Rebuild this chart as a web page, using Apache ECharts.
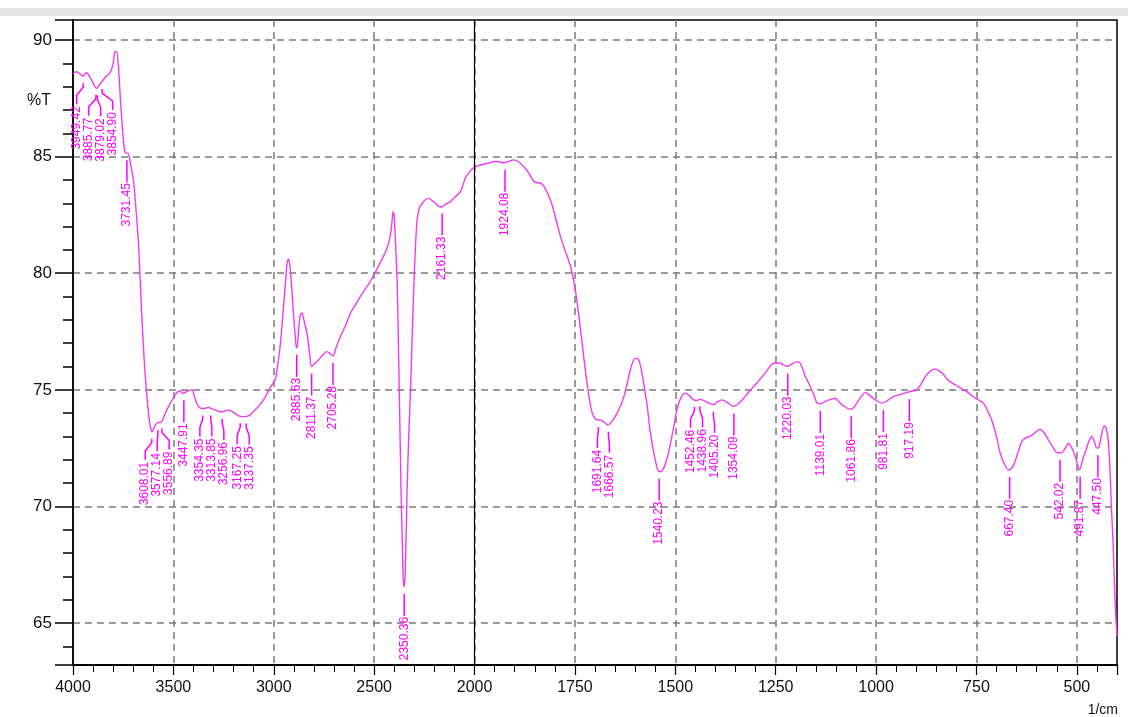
<!DOCTYPE html>
<html><head><meta charset="utf-8">
<script src="https://cdn.jsdelivr.net/npm/echarts@6/dist/echarts.min.js"></script>
<style>html,body{margin:0;padding:0;background:#fff}#c{width:1128px;height:717px}</style>
</head><body><div id="c"></div>
<script>
// ---- data (wavenumber in 1/cm, transmittance in %T) ----
const wavenumbers = [4000,3990,3982,3965,3950,3940,3932,3915,3900,3882,3870,3857,3835,3815,3800,3791,3783,3774,3762,3748,3741,3735,3728,3720,3712,3699,3686,3674,3658,3641,3624,3612,3606,3598,3583,3570,3558,3545,3533,3510,3491,3470,3450,3430,3408,3395,3380,3360,3342,3325,3310,3295,3283,3265,3250,3230,3217,3195,3175,3155,3134,3115,3101,3075,3051,3030,3017,2993,2984,2968,2951,2940,2934,2926,2918,2910,2898,2888,2884,2876,2868,2860,2850,2835,2822,2812,2800,2776,2755,2735,2718,2705,2690,2668,2640,2618,2590,2569,2530,2497,2470,2450,2436,2420,2410,2406,2400,2392,2385,2378,2372,2366,2360,2355,2350,2345,2336,2328,2319,2311,2303,2295,2286,2275,2261,2245,2228,2210,2195,2175,2161,2145,2120,2100,2070,2045,2020,2000,1985,1965,1952,1940,1927,1915,1902,1890,1877,1865,1852,1840,1830,1811,1800,1786,1775,1761,1749,1736,1720,1707,1695,1685,1676,1668,1658,1645,1628,1612,1603,1596,1591,1585,1579,1570,1562,1550,1541,1535,1529,1520,1512,1504,1496,1485,1475,1465,1454,1445,1438,1430,1418,1405,1395,1384,1370,1355,1342,1330,1315,1297,1275,1255,1240,1222,1210,1197,1189,1176,1168,1155,1147,1138,1125,1110,1102,1093,1085,1064,1055,1048,1035,1027,1015,1002,985,975,957,940,923,910,898,888,877,865,852,842,831,820,810,796,782,768,753,743,733,722,712,700,691,680,670,662,654,645,637,627,617,605,592,581,571,560,550,540,534,527,521,514,507,500,494,490,484,477,470,463,457,450,445,440,432,427,422,418,414,410,406,403,400];
const transmittance = [88.55,88.62,88.64,88.55,88.45,88.55,88.6,88.4,88.15,87.93,88.05,88.2,88.45,88.6,89.0,89.5,89.5,88.9,87.2,85.6,85.2,85.15,85.15,85.0,84.6,84.0,82.7,81.3,78.3,75.7,74.0,73.3,73.2,73.35,73.57,73.6,73.64,73.9,74.14,74.5,74.79,74.95,74.85,74.95,75.0,74.7,74.35,74.2,74.21,74.25,74.2,74.15,74.1,74.05,74.07,74.13,74.12,74.0,73.88,73.85,73.86,73.95,74.07,74.3,74.57,74.9,75.1,75.43,75.86,76.9,78.6,79.8,80.4,80.6,80.2,79.3,77.8,76.85,76.8,77.6,78.2,78.3,78.0,77.43,76.6,76.0,76.1,76.29,76.5,76.64,76.55,76.45,76.8,77.29,77.8,78.29,78.7,79.0,79.5,80.0,80.45,80.8,81.07,81.6,82.3,82.64,82.4,81.0,79.5,76.43,73.5,70.7,68.5,66.9,66.55,67.2,70.7,72.9,75.0,77.2,79.3,81.0,82.29,82.8,83.0,83.15,83.21,83.1,83.0,82.85,82.86,82.95,83.07,83.25,83.5,84.1,84.4,84.55,84.64,84.72,84.79,84.78,84.74,84.8,84.86,84.78,84.57,84.3,83.93,83.88,83.8,83.14,82.5,81.57,81.0,80.29,79.29,77.57,75.29,74.0,73.71,73.7,73.6,73.5,73.65,74.0,74.71,75.86,76.3,76.35,76.29,75.9,75.29,74.3,73.14,72.0,71.5,71.5,71.64,72.1,72.71,73.4,74.14,74.7,74.86,74.75,74.57,74.55,74.6,74.55,74.45,74.36,74.48,74.57,74.45,74.29,74.42,74.64,74.95,75.29,75.75,76.14,76.15,76.0,76.1,76.21,76.14,75.57,75.29,74.8,74.43,74.4,74.52,74.6,74.64,74.5,74.36,74.17,74.25,74.43,74.75,74.89,74.75,74.57,74.43,74.5,74.71,74.8,74.89,74.95,75.0,75.25,75.57,75.8,75.89,75.8,75.64,75.4,75.29,75.15,75.0,74.85,74.64,74.55,74.43,74.1,73.71,73.0,72.29,71.8,71.57,71.65,71.93,72.4,72.79,72.95,73.0,73.15,73.31,73.15,72.86,72.55,72.31,72.3,72.36,72.55,72.71,72.55,72.29,71.9,71.57,71.7,72.1,72.43,72.8,73.0,72.8,72.5,72.55,72.95,73.46,73.35,72.86,71.8,70.0,68.5,66.5,65.29,64.43];

const peakWavenumbers = [3949.42,3885.77,3879.02,3854.90,3731.45,3608.01,3577.14,3556.89,3447.91,3354.35,3313.85,3256.96,3167.25,3137.35,2885.63,2811.37,2705.28,2350.36,2161.33,1924.08,1691.64,1666.57,1540.23,1452.46,1438.96,1405.20,1354.09,1220.03,1139.01,1061.86,981.81,917.19,667.40,542.02,491.87,447.50];
const peakTransmittance = [88.45,87.95,87.93,88.2,85.15,73.2,73.57,73.64,74.85,74.2,74.2,74.05,73.87,73.86,76.8,76.0,76.45,66.55,82.86,84.74,73.71,73.5,71.5,74.57,74.6,74.36,74.29,76.0,74.4,74.17,74.43,74.9,71.57,72.3,71.57,72.5];
const peakLabels = ['3949.42','3885.77','3879.02','3854.90','3731.45','3608.01','3577.14','3556.89','3447.91','3354.35','3313.85','3256.96','3167.25','3137.35','2885.63','2811.37','2705.28','2350.36','2161.33','1924.08','1691.64','1666.57','1540.23','1452.46','1438.96','1405.20','1354.09','1220.03','1139.01','1061.86','981.81','917.19','667.40','542.02','491.87','447.50'];

const xTickLabels = ['4000','3500','3000','2500','2000','1750','1500','1250','1000','750','500'];
const yTickLabels = ['65','70','75','80','85','90'];

// axis with scale change at 2000 1/cm (right part expanded x2)
function toP(w){ return w >= 2000 ? 4000 - w : 2000 + (2000 - w) * 2; }

function spread(xs, gap){
  const order = xs.map((x,i)=>i).sort((a,b)=>xs[a]-xs[b]);
  let groups = order.map(i=>({ids:[i], sum:xs[i]}));
  const start = g => g.sum/g.ids.length - (g.ids.length-1)*gap/2;
  let merged = true;
  while(merged){
    merged = false;
    for(let k=0;k<groups.length-1;k++){
      const a=groups[k], b=groups[k+1];
      if(start(a)+a.ids.length*gap > start(b)+0.01){
        groups.splice(k,2,{ids:a.ids.concat(b.ids), sum:a.sum+b.sum}); merged=true; break;
      }
    }
  }
  const out=[];
  groups.forEach(g=>{const s=start(g); g.ids.forEach((id,j)=>out[id]=s+j*gap);});
  return out;
}

const FONT = '"Liberation Sans", Arial, sans-serif';
const chart = echarts.init(document.getElementById('c'), null, {renderer:'canvas'});
const gridDash = {color:'#7a7a7a', width:1.5, type:[7,5]};

chart.setOption({
  animation:false,
  backgroundColor:'#fff',
  grid:{left:73, top:20, right:11, bottom:52, show:true, borderColor:'#000', borderWidth:1.5, backgroundColor:'#fff'},
  graphic:[
    {type:'rect', left:0, top:8, shape:{width:1128, height:8}, style:{fill:'#e6e6e6'}, z:-1},
    {type:'text', x:51, y:101, style:{text:'%T', fill:'#111', font:'16px '+FONT, align:'right', verticalAlign:'middle'}},
    {type:'text', x:1118, y:710, style:{text:'1/cm', fill:'#111', font:'14px '+FONT, align:'right', verticalAlign:'middle'}}
  ],
  xAxis:{
    type:'value', min:0, max:5200, interval:500,
    axisLine:{show:true, onZero:false, lineStyle:{color:'#000', width:2}},
    axisTick:{show:true, length:10, lineStyle:{color:'#000', width:1.2}},
    minorTick:{show:true, splitNumber:5, length:7, lineStyle:{color:'#000', width:1}},
    axisLabel:{margin:15, fontSize:16, color:'#111', fontFamily:FONT,
      formatter:v=>{ const k=Math.round(v/500); return (Math.abs(v-k*500)<1e-6 && k<xTickLabels.length)? xTickLabels[k] : ''; }},
    splitLine:{show:true, showMinLine:false, showMaxLine:false, lineStyle:gridDash}
  },
  yAxis:{
    type:'value', min:63.2, max:90.86, splitNumber:5,
    axisLine:{show:true, lineStyle:{color:'#000', width:1.5}},
    axisTick:{show:true, length:18, lineStyle:{color:'#000', width:1.5}},
    minorTick:{show:true, splitNumber:5, length:10, lineStyle:{color:'#000', width:1.5}},
    axisLabel:{margin:21, fontSize:17, color:'#111', fontFamily:FONT, showMinLabel:false, showMaxLabel:false,
      formatter:v=>{ const s=String(Math.round(v)); return (Math.abs(v-Math.round(v))<1e-6 && yTickLabels.includes(s))? s : ''; }},
    splitLine:{show:true, showMinLine:false, showMaxLine:false, lineStyle:gridDash}
  },
  series:[
    {
      type:'line', showSymbol:false, smooth:0.3, z:2,
      data: wavenumbers.map((w,i)=>[toP(w), transmittance[i]]),
      lineStyle:{color:'#f03cf0', width:1.4},
      markLine:{silent:true, symbol:['none','none'], label:{show:false},
        lineStyle:{color:'#000', type:'solid', width:1.2}, data:[{xAxis:toP(2000)}]}
    },
    {
      type:'custom', coordinateSystem:'cartesian2d', silent:true, clip:false, z:3,
      data: peakWavenumbers.map((w,i)=>[toP(w), peakTransmittance[i]]),
      renderItem:function(params, api){
        const ctx = params.context;
        if(!ctx.pts){
          ctx.pts = peakWavenumbers.map((w,i)=>api.coord([toP(w), peakTransmittance[i]]));
          ctx.lx = spread(ctx.pts.map(p=>p[0]), 12);
        }
        const i = params.dataIndex;
        const x0 = ctx.pts[i][0], y0 = ctx.pts[i][1], x1 = ctx.lx[i];
        let pts;
        if(Math.abs(x1-x0) < 0.5){ pts = [[x0,y0+7],[x0,y0+29]]; }
        else { pts = [[x0,y0+7],[x0,y0+11],[x1,y0+19],[x1,y0+28]]; }
        return {type:'group', children:[
          {type:'polyline', shape:{points:pts}, style:{stroke:'#f0f', lineWidth:1.5, fill:null}},
          {type:'text', x:x1, y:y0+30, rotation:Math.PI/2,
           style:{text:peakLabels[i], fill:'#f0f', font:'12px '+FONT, align:'right', verticalAlign:'middle'}}
        ]};
      }
    }
  ]
});
</script></body></html>
